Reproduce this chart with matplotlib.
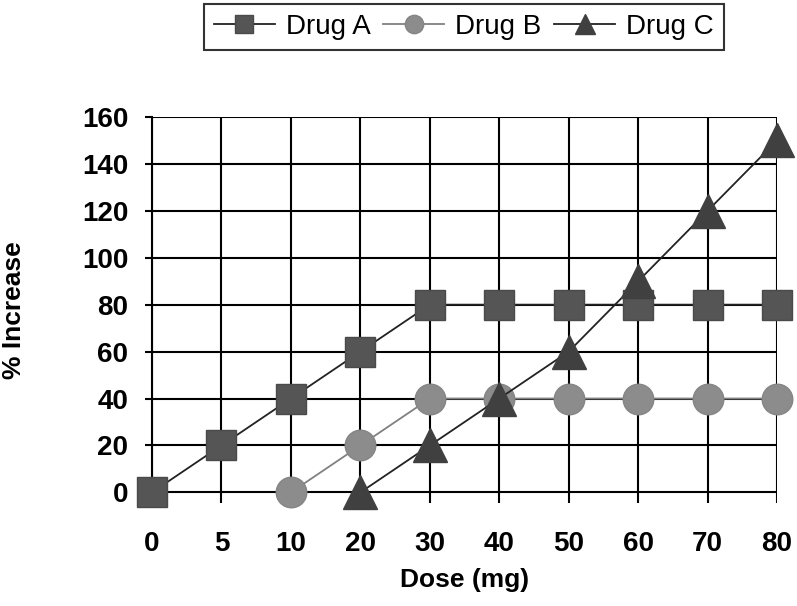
import matplotlib.pyplot as plt
import numpy as np

doses = ["0", "5", "10", "20", "30", "40", "50", "60", "70", "80"]
drug_a = [0, 20, 40, 60, 80, 80, 80, 80, 80, 80]
drug_b = [np.nan, np.nan, 0, 20, 40, 40, 40, 40, 40, 40]
drug_c = [np.nan, np.nan, np.nan, 0, 20, 40, 60, 90, 120, 150]
y_ticks = [0, 20, 40, 60, 80, 100, 120, 140, 160]

plt.rcParams['font.family'] = ['Liberation Sans', 'DejaVu Sans']

fig = plt.figure(figsize=(7.97, 6.06), dpi=100)
ax = fig.add_axes([0.1907, 0.170, 0.975 - 0.1907, 0.807 - 0.170])

x = np.arange(len(doses))
ax.plot(x, drug_a, color='#222222', linewidth=1.3, marker='s', markersize=22,
        markerfacecolor='#555555', markeredgecolor='#4a4a4a', label="Drug A", clip_on=False, zorder=3)
ax.plot(x, drug_b, color='#808080', linewidth=1.3, marker='o', markersize=22,
        markerfacecolor='#8c8c8c', markeredgecolor='#858585', label="Drug B", clip_on=False, zorder=4)
ax.plot(x, drug_c, color='#222222', linewidth=1.3, marker='^', markersize=24,
        markerfacecolor='#404040', markeredgecolor='#404040', label="Drug C", clip_on=False, zorder=5)

ax.set_xlim(0, len(doses) - 1)
ax.set_ylim(-4.5, 160)
ax.set_xticks(x)
ax.set_xticklabels(doses, fontsize=20, fontweight='bold')
ax.set_yticks(y_ticks)
ax.set_yticklabels([str(v) for v in y_ticks], fontsize=20, fontweight='bold')
ax.tick_params(axis='x', length=0, pad=20)
ax.tick_params(axis='y', length=5, width=1.5, pad=12)

ax.grid(True, color='black', linewidth=1.5)
ax.set_axisbelow(True)
for s in ['top', 'right', 'bottom']:
    ax.spines[s].set_visible(False)
ax.spines['left'].set_linewidth(1.5)

ax.set_xlabel("Dose (mg)", fontsize=19, fontweight='bold')
ax.set_ylabel("% Increase", fontsize=19, fontweight='bold')
ax.xaxis.set_label_coords(0.5, -0.2, transform=ax.transAxes)
ax.yaxis.set_label_coords(-0.221, 0.5, transform=ax.transAxes)
ax.xaxis.label.set_va('center')
ax.yaxis.label.set_va('center')

leg = fig.legend(loc='center', bbox_to_anchor=(464 / 797, 1 - 27 / 606), ncol=3,
                 prop={'family': ['Liberation Sans Narrow', 'Liberation Sans'], 'size': 20},
                 frameon=True, fancybox=False, edgecolor='black', handlelength=2.2,
                 handletextpad=0.4, columnspacing=0.45, borderpad=0.35, markerscale=0.6)
leg.get_frame().set_linewidth(1.5)

fig.savefig("out.png", dpi=100)
